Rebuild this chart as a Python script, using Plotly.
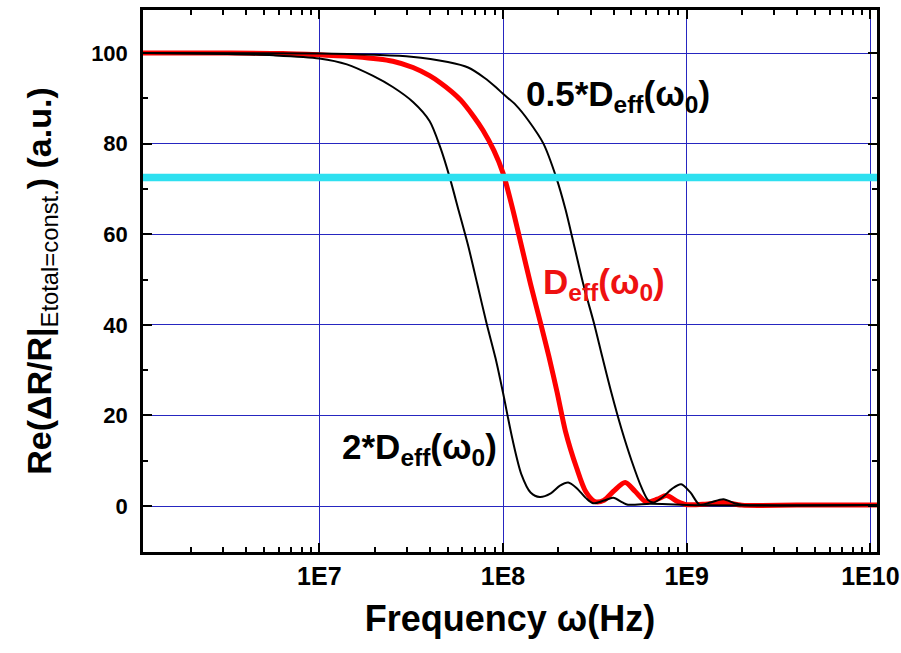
import numpy as np
import plotly.graph_objects as go

# ---- data (frequency in Hz, response in a.u.) ----
log_f_red = [6.04, 6.5, 6.8, 7.0, 7.2, 7.4, 7.51, 7.6, 7.66, 7.72, 7.77, 7.84, 7.89, 7.95,
             8.0, 8.05, 8.1, 8.15, 8.21, 8.25, 8.295, 8.34, 8.4, 8.45, 8.5, 8.55, 8.6,
             8.665, 8.72, 8.78, 8.84, 8.89, 8.95, 9.0, 9.1, 9.2, 9.3, 9.6, 10.04]
val_red = [100, 100, 99.9, 99.6, 99.2, 98.2, 96.8, 95, 93.4, 91.5, 89.6, 86, 83, 78.5,
           73.5, 66, 57.5, 49, 39.5, 33, 25, 16.5, 8.5, 3.2, 1.0, 1.3, 3.2,
           5.2, 3.2, 0.9, 1.5, 2.3, 1.0, 0.3, 0.4, 0.8, 0.2, 0.2, 0.2]

log_f_2x = [6.04, 6.5, 6.75, 7.0, 7.15, 7.29, 7.4, 7.51, 7.6, 7.66, 7.71, 7.76, 7.81, 7.86,
            7.91, 7.96, 8.0, 8.05, 8.1, 8.15, 8.2, 8.26, 8.31, 8.355, 8.4, 8.45, 8.49,
            8.55, 8.6, 8.65, 8.68, 8.8, 8.9, 9.0, 10.04]
val_2x = [100, 99.8, 99.5, 98.8, 97.5, 95, 92.5, 89.2, 85, 79, 72.5, 65, 57.5, 49,
          40.4, 32.5, 25, 15, 7, 3, 2, 2.8, 4.5, 5.2, 4, 1.8, 0.6,
          1.2, 1.8, 0.8, 0.3, 0.5, 0.4, 0.2, 0.2]

log_f_half = [6.04, 7.0, 7.3, 7.5, 7.7, 7.81, 7.9, 7.96, 8.0, 8.07, 8.14, 8.22, 8.29, 8.34,
              8.39, 8.44, 8.495, 8.54, 8.59, 8.645, 8.70, 8.755, 8.79, 8.82, 8.87, 8.92,
              8.97, 9.02, 9.07, 9.13, 9.2, 9.26, 9.3, 10.04]
val_half = [100, 99.9, 99.6, 99.2, 98, 96.8, 94.5, 92.5, 91, 88.5, 85, 80, 72.5, 65.5,
            57, 48.5, 40.4, 33, 25, 17, 10, 4, 1.3, 0.8, 2, 3.8,
            4.8, 3, 0.3, 0.8, 1.5, 0.6, 0.3, 0.2]

log_f_ref = [6.04, 10.04]
val_ref = [72.5, 72.5]

x_tick_vals = [1e7, 1e8, 1e9, 1e10]
x_tick_text = ["1E7", "1E8", "1E9", "1E10"]
y_tick_vals = [0, 20, 40, 60, 80, 100]

labels = ["0.5*D<sub>eff</sub>(ω<sub>0</sub>)", "D<sub>eff</sub>(ω<sub>0</sub>)",
          "2*D<sub>eff</sub>(ω<sub>0</sub>)"]
label_pos_logf = [8.115, 8.207, 7.114]
label_pos_val = [90.5, 49, 12.6]
label_colors = ["black", "#EE1111", "black"]

def hz(lf):
    return [10 ** v for v in lf]

sans = "Liberation Sans, Arial"

fig = go.Figure()
fig.add_trace(go.Scatter(x=hz(log_f_red), y=val_red, mode="lines",
                         line=dict(color="#FF0000", width=5, shape="spline", smoothing=0.8)))
fig.add_trace(go.Scatter(x=hz(log_f_2x), y=val_2x, mode="lines",
                         line=dict(color="black", width=2, shape="spline", smoothing=0.8)))
fig.add_trace(go.Scatter(x=hz(log_f_half), y=val_half, mode="lines",
                         line=dict(color="black", width=2, shape="spline", smoothing=0.8)))
fig.add_trace(go.Scatter(x=hz(log_f_ref), y=val_ref, mode="lines",
                         line=dict(color="#2EE0F0", width=7.5)))

for t, lx, ly, c in zip(labels, label_pos_logf, label_pos_val, label_colors):
    fig.add_annotation(x=lx, y=ly, xref="x", yref="y", text=t, showarrow=False,
                       xanchor="left", yanchor="middle",
                       font=dict(family=sans, size=35, color=c, weight="bold"))

minor_x = [k * 10 ** n for n in range(6, 10) for k in range(2, 10)]

fig.update_layout(
    width=901, height=653,
    margin=dict(l=143, r=24, t=10, b=101),
    paper_bgcolor="white", plot_bgcolor="white",
    showlegend=False,
    font=dict(family=sans, color="black"),
)
fig.update_xaxes(
    type="log", range=[6.04, 10.036], automargin=False,
    tickmode="array", tickvals=x_tick_vals, ticktext=x_tick_text,
    tickfont=dict(family=sans, size=25, weight="bold"),
    ticklabeloverflow="allow",
    ticks="inside", ticklen=9, tickwidth=2, tickcolor="black",
    showline=True, linewidth=2.5, linecolor="black", mirror="ticks",
    showgrid=True, gridcolor="#2626C0", gridwidth=1,
    zeroline=False,
    minor=dict(tickmode="array", tickvals=minor_x, ticks="inside", ticklen=5,
               tickwidth=1.5, tickcolor="black", showgrid=False),
    title=dict(text="<b>Frequency ω(Hz)</b>", font=dict(family=sans, size=36),
               standoff=18),
)
fig.update_yaxes(
    range=[-10.15, 109.5], automargin=False,
    tickmode="array", tickvals=y_tick_vals,
    tickfont=dict(family=sans, size=22, weight="bold"),
    ticklabelstandoff=8,
    ticks="inside", ticklen=9, tickwidth=2, tickcolor="black",
    showline=True, linewidth=2.5, linecolor="black", mirror="ticks",
    showgrid=True, gridcolor="#2626C0", gridwidth=1,
    zeroline=False,
    minor=dict(dtick=10, ticks="inside", ticklen=5, tickwidth=1.5,
               tickcolor="black", showgrid=False),
    title=dict(text="<b>Re(ΔR/R|</b><sub>Etotal=const.</sub><b>) (a.u.)</b>",
               font=dict(family=sans, size=34), standoff=30),
)

fig.write_html("out.html")
